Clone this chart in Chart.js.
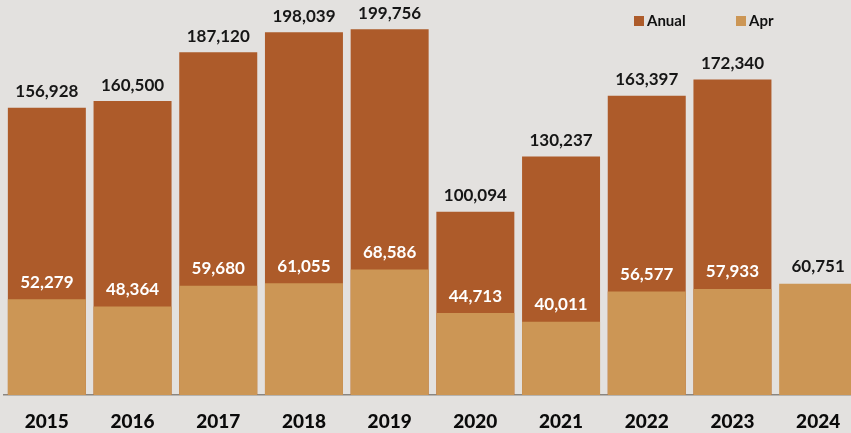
<!DOCTYPE html>
<html>
<head>
<meta charset="utf-8">
<script src="https://cdn.jsdelivr.net/npm/chart.js@4"></script>
<style>
  html, body { margin: 0; padding: 0; background: #e3e1df; overflow: hidden; width: 851px; height: 433px; }
  #wrap { position: relative; width: 862px; height: 433px; }
  #legend { position: absolute; top: 11px; left: 634px; font-family: Lato, sans-serif; font-weight: 700; font-size: 15px; color: #111; }
  .item { position: absolute; top: 0; white-space: nowrap; line-height: 18px; }
  .sw { display: inline-block; width: 10px; height: 10px; vertical-align: middle; margin-right: 3px; position: relative; top: -1px; }
</style>
</head>
<body>
<div id="wrap">
  <canvas id="c" width="862" height="433"></canvas>
  <div id="legend">
    <div class="item" style="left:0px"><span class="sw" style="background:#ad5b2a"></span>Anual</div>
    <div class="item" style="left:102px"><span class="sw" style="background:#cc9655"></span>Apr</div>
  </div>
</div>
<script>
const categories = ['2015','2016','2017','2018','2019','2020','2021','2022','2023','2024'];
const anual = [156928, 160500, 187120, 198039, 199756, 100094, 130237, 163397, 172340, null];
const apr = [52279, 48364, 59680, 61055, 68586, 44713, 40011, 56577, 57933, 60751];

const fmt = v => v.toLocaleString('en-US');

const labelPlugin = {
  id: 'valueLabels',
  afterDatasetsDraw(chart) {
    const ctx = chart.ctx;
    ctx.save();
    ctx.font = '700 17px Lato, sans-serif';
    ctx.textAlign = 'center';
    ctx.textBaseline = 'middle';
    const metaApr = chart.getDatasetMeta(0);
    const metaAn = chart.getDatasetMeta(1);
    metaAn.data.forEach((bar, i) => {
      if (anual[i] == null) return;
      ctx.fillStyle = '#161616';
      ctx.fillText(fmt(anual[i]), bar.x, bar.y - 16);
    });
    metaApr.data.forEach((bar, i) => {
      const inside = anual[i] != null;
      ctx.fillStyle = inside ? '#ffffff' : '#161616';
      ctx.fillText(fmt(apr[i]), bar.x, bar.y - 17);
    });
    ctx.restore();
  }
};

new Chart(document.getElementById('c'), {
  type: 'bar',
  data: {
    labels: categories,
    datasets: [
      { label: 'Apr', data: apr, backgroundColor: '#cc9655', barPercentage: 0.91, categoryPercentage: 1 },
      { label: 'Anual', data: anual, backgroundColor: '#ad5b2a', barPercentage: 0.91, categoryPercentage: 1 }
    ]
  },
  options: {
    responsive: false,
    animation: false,
    layout: { padding: { left: 4, right: 1, top: 0, bottom: 2 } },
    plugins: { legend: { display: false }, tooltip: { enabled: false } },
    scales: {
      x: {
        stacked: false,
        grid: { display: false, drawTicks: false },
        border: { display: true, color: '#8a8580', width: 1.5 },
        ticks: { color: '#0a0a0a', font: { family: 'Lato, sans-serif', size: 19, weight: '900' }, padding: 15 },
        afterFit: (scale) => { scale.height = 36; }
      },
      y: {
        display: false,
        min: 0,
        max: 215700
      }
    },
    datasets: { bar: { grouped: false } }
  },
  plugins: [labelPlugin]
});
</script>
</body>
</html>
